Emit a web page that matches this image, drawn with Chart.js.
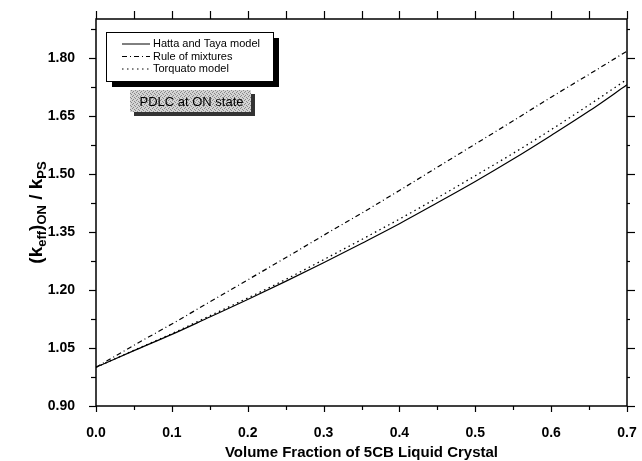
<!DOCTYPE html>
<html>
<head>
<meta charset="utf-8">
<script src="https://cdn.jsdelivr.net/npm/chart.js@4/dist/chart.umd.min.js"></script>
<style>
  html, body { margin: 0; padding: 0; background: #fff; }
  #wrap { width: 642px; height: 461px; position: relative; }
</style>
</head>
<body>
<div id="wrap"><canvas id="chart" width="642" height="461"></canvas></div>
<script>
// values
const volumeFraction = [0, 0.05, 0.1, 0.15, 0.2, 0.25, 0.3, 0.35, 0.4, 0.45, 0.5, 0.55, 0.6, 0.65, 0.7];
const hattaTaya = [1.000, 1.043, 1.085, 1.130, 1.175, 1.222, 1.270, 1.320, 1.371, 1.425, 1.480, 1.538, 1.599, 1.662, 1.730];
const ruleOfMixtures = [1.000, 1.057, 1.112, 1.169, 1.226, 1.283, 1.341, 1.398, 1.457, 1.517, 1.577, 1.637, 1.698, 1.757, 1.817];
const torquato = [1.000, 1.044, 1.087, 1.133, 1.179, 1.227, 1.278, 1.330, 1.383, 1.438, 1.495, 1.553, 1.614, 1.678, 1.744];

const seriesLabels = ['Hatta and Taya model', 'Rule of mixtures', 'Torquato model'];
const xMajorTicks = [0, 0.1, 0.2, 0.3, 0.4, 0.5, 0.6, 0.7];
const xMinorTicks = [0.05, 0.15, 0.25, 0.35, 0.45, 0.55, 0.65];
const yMajorTicks = [0.90, 1.05, 1.20, 1.35, 1.50, 1.65, 1.80];
const yMinorTicks = [0.975, 1.125, 1.275, 1.425, 1.575, 1.725, 1.875];
const xTitle = 'Volume Fraction of 5CB Liquid Crystal';
const noteText = 'PDLC at ON state';

const FONT = '"Liberation Sans", Arial, sans-serif';

const pts = ys => volumeFraction.map((x, i) => ({ x: x, y: ys[i] }));

// frame, outward ticks, axis titles, legend and the note box
const decorations = {
  id: 'decorations',
  afterDraw(chart) {
    const { ctx, chartArea: a, scales } = chart;
    const xs = scales.x, ys = scales.y;
    ctx.save();
    ctx.strokeStyle = '#000';
    ctx.lineWidth = 1.5;
    ctx.strokeRect(a.left, a.top, a.right - a.left, a.bottom - a.top);

    ctx.lineWidth = 1.2;
    const tick = (x1, y1, x2, y2) => {
      ctx.beginPath(); ctx.moveTo(x1, y1); ctx.lineTo(x2, y2); ctx.stroke();
    };
    xMajorTicks.concat(xMinorTicks).forEach(v => {
      const len = xMajorTicks.includes(v) ? 6 : 4;
      const px = Math.round(xs.getPixelForValue(v)) + 0.5;
      tick(px, a.bottom, px, a.bottom + len);
      tick(px, a.top, px, a.top - 8);
    });
    yMajorTicks.concat(yMinorTicks).forEach(v => {
      const major = yMajorTicks.includes(v);
      const py = Math.round(ys.getPixelForValue(v)) + 0.5;
      tick(a.left, py, a.left - (major ? 7 : 5), py);
      tick(a.right, py, a.right + (major ? 8 : 3), py);
    });

    // x title
    ctx.fillStyle = '#000';
    ctx.font = 'bold 15px ' + FONT;
    ctx.textAlign = 'center';
    ctx.textBaseline = 'middle';
    ctx.fillText(xTitle, (a.left + a.right) / 2, 453);

    // y title with subscripts
    const parts = [['(k', 0], ['eff', 1], [')', 0], ['ON', 1], [' / k', 0], ['PS', 1]];
    ctx.save();
    ctx.translate(36, (a.top + a.bottom) / 2);
    ctx.rotate(-Math.PI / 2);
    ctx.textAlign = 'left';
    ctx.textBaseline = 'alphabetic';
    const fontOf = sub => sub ? 'bold 13px ' + FONT : 'bold 19px ' + FONT;
    let total = 0;
    parts.forEach(([t, sub]) => { ctx.font = fontOf(sub); total += ctx.measureText(t).width; });
    let cx = -total / 2;
    parts.forEach(([t, sub]) => {
      ctx.font = fontOf(sub);
      ctx.fillText(t, cx, sub ? 10 : 6);
      cx += ctx.measureText(t).width;
    });
    ctx.restore();

    // legend box with black drop shadow
    const lx = 106, ly = 32, lw = 167, lh = 49;
    ctx.fillStyle = '#000';
    ctx.fillRect(lx + 6, ly + 6, lw, lh);
    ctx.fillStyle = '#fff';
    ctx.fillRect(lx, ly, lw, lh);
    ctx.lineWidth = 1;
    ctx.strokeRect(lx + 0.5, ly + 0.5, lw, lh);
    ctx.font = '11px ' + FONT;
    ctx.textAlign = 'left';
    ctx.textBaseline = 'middle';
    chart.data.datasets.forEach((ds, i) => {
      const ry = 44 + i * 12.5;
      ctx.save();
      ctx.strokeStyle = '#000';
      ctx.lineWidth = 1;
      ctx.setLineDash(ds.borderDash || []);
      ctx.beginPath(); ctx.moveTo(122, ry); ctx.lineTo(150, ry); ctx.stroke();
      ctx.restore();
      ctx.fillStyle = '#000';
      ctx.fillText(ds.label, 153, ry);
    });

    // note box with halftone fill
    const nx = 130, ny = 90, nw = 121, nh = 22;
    ctx.fillStyle = '#333';
    ctx.fillRect(nx + 4, ny + 4, nw, nh);
    const tile = document.createElement('canvas');
    tile.width = 4; tile.height = 4;
    const tc = tile.getContext('2d');
    tc.fillStyle = '#d4d4d4'; tc.fillRect(0, 0, 4, 4);
    tc.fillStyle = '#8a8a8a';
    tc.fillRect(0, 0, 1, 1); tc.fillRect(2, 1, 1, 1); tc.fillRect(1, 3, 1, 1); tc.fillRect(3, 2, 1, 1);
    ctx.fillStyle = ctx.createPattern(tile, 'repeat');
    ctx.fillRect(nx, ny, nw, nh);
    ctx.fillStyle = '#000';
    ctx.font = '13px ' + FONT;
    ctx.textAlign = 'center';
    ctx.fillText(noteText, nx + nw / 2 + 1, ny + nh / 2 + 1);
    ctx.restore();
  }
};

new Chart(document.getElementById('chart'), {
  type: 'line',
  data: {
    datasets: [
      { label: seriesLabels[0], data: pts(hattaTaya), borderColor: '#000', borderWidth: 1.2, borderDash: [] },
      { label: seriesLabels[1], data: pts(ruleOfMixtures), borderColor: '#000', borderWidth: 1.2, borderDash: [5, 3, 1, 3] },
      { label: seriesLabels[2], data: pts(torquato), borderColor: '#000', borderWidth: 1.3, borderDash: [1.5, 3.5] }
    ]
  },
  options: {
    responsive: false,
    animation: false,
    devicePixelRatio: 1,
    layout: { padding: { left: 0, top: 19, right: 15, bottom: 0 } },
    elements: { point: { radius: 0 }, line: { tension: 0.3, cubicInterpolationMode: 'monotone' } },
    plugins: { legend: { display: false }, tooltip: { enabled: false } },
    scales: {
      x: {
        type: 'linear', min: 0, max: 0.7,
        grid: { display: false },
        border: { display: false },
        afterBuildTicks: s => { s.ticks = xMajorTicks.map(v => ({ value: v })); },
        afterFit: s => { s.height = 55; s.paddingLeft = 0; s.paddingRight = 0; },
        ticks: {
          padding: 11, color: '#000', maxRotation: 0,
          font: { family: FONT, size: 14, weight: 'bold' },
          callback: v => Number(v).toFixed(1)
        }
      },
      y: {
        type: 'linear', min: 0.9, max: 1.9,
        grid: { display: false },
        border: { display: false },
        afterBuildTicks: s => { s.ticks = yMajorTicks.map(v => ({ value: v })); },
        afterFit: s => { s.width = 96; s.paddingTop = 0; s.paddingBottom = 0; },
        ticks: {
          padding: 13, color: '#000',
          font: { family: FONT, size: 14, weight: 'bold' },
          callback: v => Number(v).toFixed(2)
        }
      }
    }
  },
  plugins: [decorations]
});
</script>
</body>
</html>
